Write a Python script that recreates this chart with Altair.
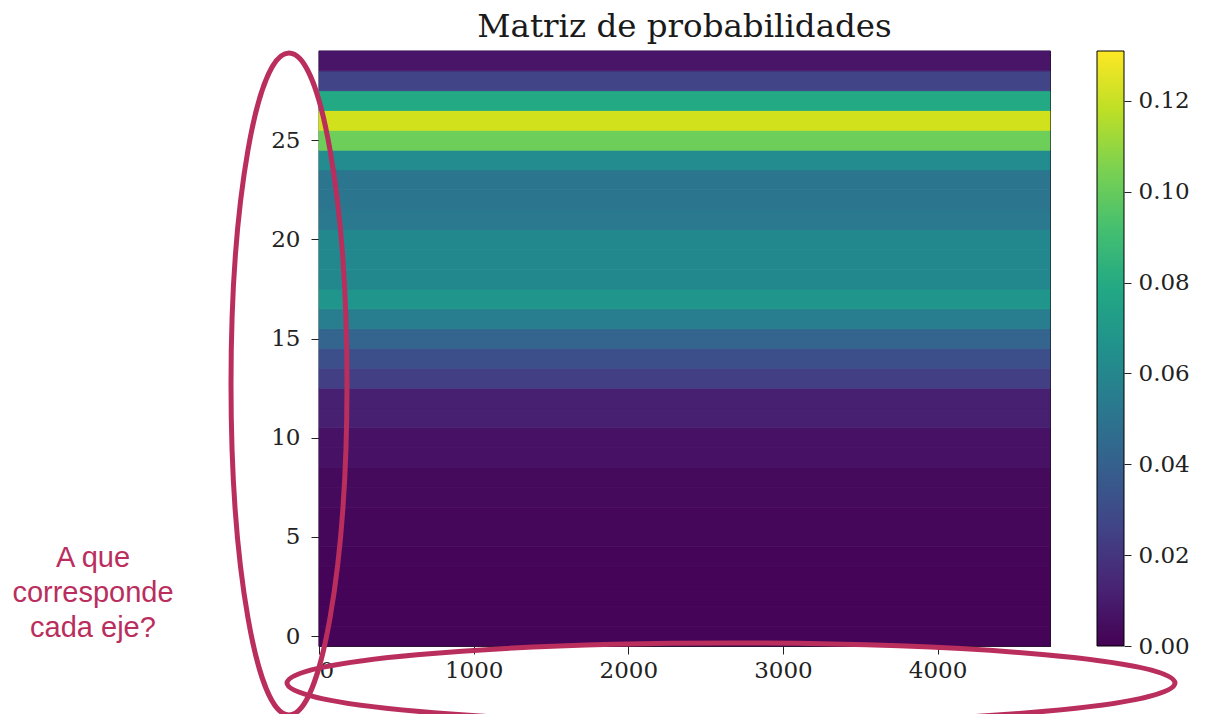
import altair as alt
import pandas as pd

# ---- data ----
rows = list(range(30))
probs = [0.001, 0.001, 0.001, 0.001, 0.0015, 0.002, 0.002, 0.003, 0.003, 0.006,
         0.006, 0.011, 0.011, 0.024, 0.031, 0.042, 0.055, 0.068, 0.061, 0.061,
         0.061, 0.053, 0.051, 0.051, 0.063, 0.102, 0.122, 0.079, 0.026, 0.007]
n_cols = 4728
x_ticks = [0, 1000, 2000, 3000, 4000]
y_ticks = [0, 5, 10, 15, 20, 25]
cbar_ticks = [0.0, 0.02, 0.04, 0.06, 0.08, 0.10, 0.12]
vmax = 0.131
title = "Matriz de probabilidades"
note_lines = ["A que", "corresponde", "cada eje?"]

viridis_stops = ["#440154", "#482475", "#414487", "#355f8d", "#2a788e", "#21918c",
                 "#22a884", "#44bf70", "#7ad151", "#bddf26", "#fde725"]

df = pd.DataFrame({"row": rows, "p": probs})
df["x0"] = -0.5
df["x1"] = n_cols - 0.5
df["y0"] = df["row"] - 0.5
df["y1"] = df["row"] + 0.5

FONT = "DejaVu Serif"
ACC = "#ba2e5e"
W, H = 731, 595

cscale = alt.Scale(scheme="viridis", domain=[0, vmax])

heat = alt.Chart(df).mark_rect(strokeWidth=0.8).encode(
    x=alt.X("x0:Q", scale=alt.Scale(domain=[-0.5, n_cols - 0.5], nice=False, zero=False),
            axis=alt.Axis(values=x_ticks, format="d", title=None, grid=False)),
    x2="x1:Q",
    y=alt.Y("y0:Q", scale=alt.Scale(domain=[-0.5, 29.5], nice=False, zero=False),
            axis=alt.Axis(values=y_ticks, format="d", title=None, grid=False,
                          labelPadding=11)),
    y2="y1:Q",
    color=alt.Color("p:Q", scale=cscale, legend=None),
    stroke=alt.Stroke("p:Q", scale=cscale, legend=None),
)

grad = alt.Gradient(
    gradient="linear",
    stops=[alt.GradientStop(offset=i / 10, color=c) for i, c in enumerate(viridis_stops)],
    x1=0, x2=0, y1=1, y2=0,
)
cbar = alt.Chart().mark_rect(fill=grad, stroke="black", strokeWidth=1).encode(
    x=alt.value(778), x2=alt.value(805),
    y=alt.Y(datum=0, type="quantitative",
            scale=alt.Scale(domain=[0, vmax], nice=False, zero=False),
            axis=alt.Axis(orient="right", offset=74, values=cbar_ticks, format=".2f",
                          title=None, grid=False, domain=False, tickSize=7, labelPadding=7)),
    y2=alt.datum(vmax),
)

def ellipse_path(a, b):
    k = 0.5523
    return (f"M {a} 0 C {a} {k*b:.4f} {k*a:.4f} {b} 0 {b} "
            f"C {-k*a:.4f} {b} {-a} {k*b:.4f} {-a} 0 "
            f"C {-a} {-k*b:.4f} {-k*a:.4f} {-b} 0 {-b} "
            f"C {k*a:.4f} {-b} {a} {-k*b:.4f} {a} 0 Z")

ell_v = alt.Chart().mark_point(
    shape=ellipse_path(58 / 331, 1), size=(2 * 331) ** 2, filled=False,
    stroke=ACC, strokeWidth=5, opacity=1,
).encode(x=alt.value(-30), y=alt.value(333))

ell_h = alt.Chart().mark_point(
    shape=ellipse_path(1, 40 / 444), size=(2 * 444) ** 2, filled=False,
    stroke=ACC, strokeWidth=5, opacity=1,
).encode(x=alt.value(412), y=alt.value(632))

note = alt.Chart().mark_text(
    text=note_lines, font="Liberation Sans", fontSize=29, color=ACC,
    align="center", baseline="alphabetic", lineHeight=35,
).encode(x=alt.value(-226), y=alt.value(516))

title_mark = alt.Chart().mark_text(
    text=title, font=FONT, fontSize=32.5, color="#1a1a1a",
    align="center", baseline="alphabetic",
).encode(x=alt.value(W / 2), y=alt.value(-14))

chart = alt.layer(heat, cbar, note, title_mark, ell_v, ell_h).resolve_scale(
    y="independent", x="independent"
).properties(
    width=W, height=H,
    autosize=alt.AutoSizeParams(type="none"),
    padding={"left": 311, "top": 43, "right": 146, "bottom": 68},
).configure_view(
    stroke="black", strokeWidth=1.2
).configure_axis(
    labelFont=FONT, labelFontSize=23, labelColor="#222222",
    tickColor="#222222", tickSize=8, tickWidth=1,
    domainColor="#222222", domainWidth=1.2, labelPadding=5,
)

chart.save("out.html", embed_options={"renderer": "svg", "actions": False})
